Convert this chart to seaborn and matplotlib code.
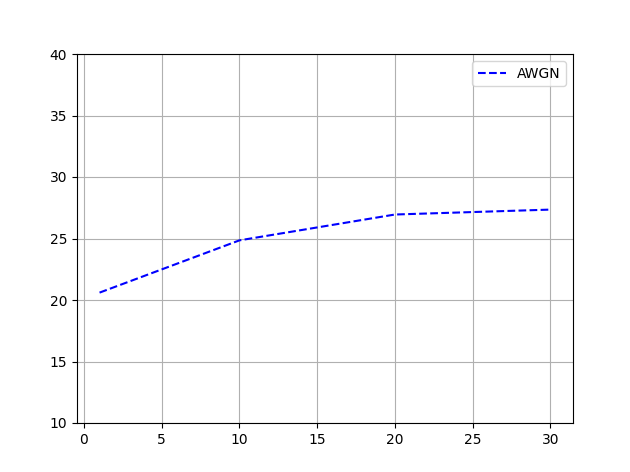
import numpy as np
import pandas as pd
import seaborn as sns
import matplotlib
matplotlib.use("Agg")
import matplotlib.pyplot as plt

# data
snr_x = [1, 10, 20, 30]
awgn_y = [20.6, 24.85, 26.95, 27.35]

df = pd.DataFrame({"x": snr_x, "y": awgn_y})

fig, ax = plt.subplots(figsize=(6.3, 4.72), dpi=100)
fig.subplots_adjust(left=77 / 630, right=573 / 630, top=1 - 54 / 472, bottom=1 - 423 / 472)
sns.lineplot(data=df, x="x", y="y", ax=ax, color="blue", linestyle="--",
             label="AWGN", linewidth=1.5)
ax.set_ylim(10, 40)
ax.set_xlabel("")
ax.set_ylabel("")
ax.grid(True)
ax.legend(loc="upper right")

plt.savefig("out.png", dpi=100)
